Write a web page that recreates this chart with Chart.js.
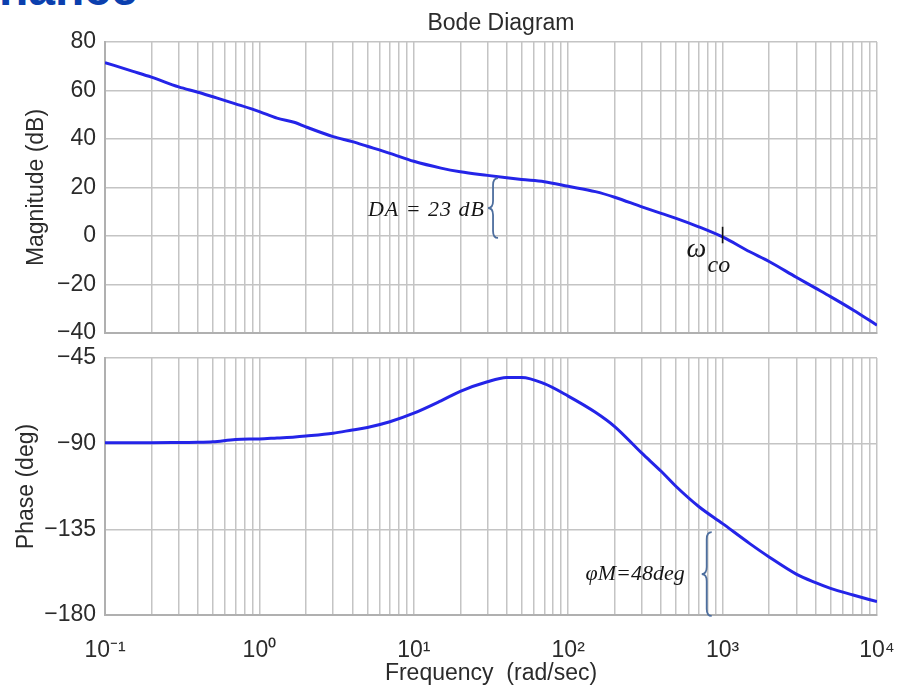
<!DOCTYPE html>
<html>
<head>
<meta charset="utf-8">
<script src="https://cdn.jsdelivr.net/npm/chart.js@4.4.1/dist/chart.umd.min.js"></script>
<style>
html,body{margin:0;padding:0;background:#fff;width:902px;height:690px;overflow:hidden;position:relative;}
#hdr{position:absolute;left:-1px;top:-35px;font:bold 48px 'Liberation Sans',Arial,sans-serif;line-height:48px;color:#0b3fae;white-space:nowrap;}
#w1{position:absolute;left:0;top:0;width:902px;height:350px;}
#w2{position:absolute;left:0;top:344px;width:902px;height:346px;}
canvas{display:block;}
</style>
</head>
<body>
<div id="hdr">nance</div>
<div id="w1"><canvas id="c1" width="902" height="350"></canvas></div>
<div id="w2"><canvas id="c2" width="902" height="346"></canvas></div>
<script>
// ---- data ----
const chartTitle = 'Bode Diagram';
const freqs = [0.1, 0.15, 0.2, 0.3, 0.4, 0.5, 0.7, 1, 1.3, 1.7, 2, 3, 4, 5, 7, 10, 15, 20, 30, 40, 50, 70,
  100, 150, 200, 300, 400, 500, 700, 1000, 1500, 2000, 3000, 4000, 5000, 7000, 10000];
const magnitudeDb = [71.5, 68, 65.5, 61.5, 59.3, 57.4, 54.5, 51.3, 48.6, 46.8, 45, 41, 38.9, 37, 34.1, 30.8, 28, 26.5, 25, 24, 23.3, 22.4,
  20.5, 18.3, 16, 12, 9.3, 7.3, 3.8, -0.4, -6.5, -10.5, -17, -21.5, -25, -30.5, -36.8];
const phaseDeg = [-89.5, -89.5, -89.5, -89.4, -89.3, -89, -87.8, -87.5, -87, -86.5, -86, -84.5, -82.8, -81.5, -78.5, -74, -67.5, -62.5, -57.5, -55.3, -55.2, -58.5,
  -65, -73.5, -81, -95, -104.5, -112.5, -123, -132, -142.5, -149.5, -158.5, -163, -166, -169.5, -173];
const decadeValues = [0.1, 1, 10, 100, 1000, 10000];
const decadeLabels = ['10\u207B\u00B9', '10\u2070', '10\u00B9', '10\u00B2', '10\u00B3', '10\u2074'];
const magTicks = [80, 60, 40, 20, 0, -20, -40];
const phaseTicks = [-45, -90, -135, -180];
const xTitle = 'Frequency  (rad/sec)';
const magTitle = 'Magnitude (dB)';
const phaseTitle = 'Phase (deg)';
const daLabel = 'DA = 23 dB';
const pmLabel = '\u03C6M=48deg';

// ---- styling ----
const FONT = "'Liberation Sans', Arial, Helvetica, sans-serif";
const SERIF = "'Liberation Serif', 'Times New Roman', serif";
const TXT = '#2b2b2b';
const GRID = '#c4c4c4';
const LINE = '#2424e8';
const BRACE = '#4d6e9e';

const gridFreqs = [];
for (let e = -1; e < 4; e++) for (let m = 1; m < 10; m++) gridFreqs.push(+(m * Math.pow(10, e)).toPrecision(6));
gridFreqs.push(10000);

function minus(v) { return v < 0 ? '\u2212' + Math.abs(v) : String(v); }

function xScale(showLabels) {
  return {
    type: 'logarithmic', min: 0.1, max: 10000,
    afterBuildTicks: s => { s.ticks = gridFreqs.map(v => ({ value: v })); },
    afterFit: s => { s.height = showLabels ? 75 : 0; s.paddingLeft = 0; s.paddingRight = 0; s.paddingTop = 0; s.paddingBottom = 0; },
    ticks: {
      display: showLabels, autoSkip: false, maxRotation: 0, minRotation: 0, padding: 22,
      color: TXT, font: { family: FONT, size: 23 },
      callback: v => {
        const i = decadeValues.findIndex(d => Math.abs(Math.log10(d) - Math.log10(v)) < 1e-6);
        return i >= 0 ? decadeLabels[i] : '';
      }
    },
    grid: { color: GRID, lineWidth: 1.5, drawTicks: false },
    border: { color: '#b0b0b0', width: 2 },
    title: { display: showLabels, text: xTitle, color: TXT, font: { family: FONT, size: 23 }, padding: { top: 0, bottom: 3 } }
  };
}

function yScale(min, max, step, tickVals, title, titlePad) {
  return {
    type: 'linear', min: min, max: max,
    afterBuildTicks: s => { s.ticks = tickVals.map(v => ({ value: v })); },
    afterFit: s => { s.width = 105; s.paddingTop = 0; s.paddingBottom = 0; s.paddingLeft = 0; s.paddingRight = 0; },
    ticks: { stepSize: step, padding: 9, color: TXT, font: { family: FONT, size: 23 }, callback: v => minus(v) },
    grid: { color: GRID, lineWidth: 1.5, drawTicks: false },
    border: { color: '#b0b0b0', width: 2 },
    title: { display: true, text: title, color: TXT, font: { family: FONT, size: 23 }, padding: { top: titlePad, bottom: 0 } }
  };
}

function drawBrace(ctx, x, y1, y2) {
  const w = 5, r = 7, ym = (y1 + y2) / 2;
  ctx.beginPath();
  ctx.moveTo(x + w, y1);
  ctx.quadraticCurveTo(x, y1, x, y1 + r);
  ctx.lineTo(x, ym - r);
  ctx.quadraticCurveTo(x, ym, x - w, ym);
  ctx.quadraticCurveTo(x, ym, x, ym + r);
  ctx.lineTo(x, y2 - r);
  ctx.quadraticCurveTo(x, y2, x + w, y2);
  ctx.stroke();
}

const topAnnot = {
  id: 'topAnnot',
  afterDatasetsDraw(chart) {
    const { ctx, scales: { x, y } } = chart;
    ctx.save();
    // title
    ctx.fillStyle = TXT;
    ctx.font = '23px ' + FONT;
    ctx.textAlign = 'center';
    ctx.textBaseline = 'alphabetic';
    ctx.fillText(chartTitle, 501, 30);
    // DA brace
    ctx.strokeStyle = BRACE; ctx.lineWidth = 1.8;
    const bx = x.getPixelForValue(32.6);
    const by1 = y.getPixelForValue(23.9), by2 = y.getPixelForValue(-0.8);
    drawBrace(ctx, bx, by1, by2);
    ctx.fillStyle = '#151515';
    ctx.font = 'italic 22px ' + SERIF;
    ctx.textAlign = 'right'; ctx.textBaseline = 'middle';
    try { ctx.letterSpacing = '1px'; } catch (e) {}
    ctx.fillText(daLabel, bx - 8, (by1 + by2) / 2 + 2);
    try { ctx.letterSpacing = '0px'; } catch (e) {}
    // omega_co tick
    const cx = x.getPixelForValue(1000);
    ctx.strokeStyle = '#111'; ctx.lineWidth = 1.6;
    ctx.beginPath();
    ctx.moveTo(cx, y.getPixelForValue(3.8));
    ctx.lineTo(cx, y.getPixelForValue(-3));
    ctx.stroke();
    ctx.textAlign = 'left'; ctx.textBaseline = 'alphabetic';
    ctx.font = 'italic 28px ' + SERIF;
    ctx.fillText('\u03C9', cx - 36, 257);
    ctx.font = 'italic 24px ' + SERIF;
    ctx.fillText('co', cx - 15, 272);
    ctx.restore();
  }
};

const botAnnot = {
  id: 'botAnnot',
  afterDatasetsDraw(chart) {
    const { ctx, scales: { x, y } } = chart;
    ctx.save();
    ctx.strokeStyle = BRACE; ctx.lineWidth = 1.8;
    const bx = x.getPixelForValue(789);
    const by1 = y.getPixelForValue(-136.5), by2 = y.getPixelForValue(-180.5);
    drawBrace(ctx, bx, by1, by2);
    ctx.fillStyle = '#151515';
    ctx.font = 'italic 22px ' + SERIF;
    ctx.textAlign = 'right'; ctx.textBaseline = 'middle';
    ctx.fillText(pmLabel, bx - 22, (by1 + by2) / 2);
    ctx.restore();
  }
};

function makeChart(id, values, yOpts, showX, padding, plugin) {
  return new Chart(document.getElementById(id), {
    type: 'line',
    data: {
      datasets: [{
        data: freqs.map((f, i) => ({ x: f, y: values[i] })),
        borderColor: LINE, borderWidth: 3, pointRadius: 0, fill: false,
        cubicInterpolationMode: 'monotone'
      }]
    },
    options: {
      responsive: false, animation: false, devicePixelRatio: 1,
      layout: { padding: padding },
      plugins: { legend: { display: false }, tooltip: { enabled: false }, title: { display: false } },
      scales: { x: xScale(showX), y: yOpts }
    },
    plugins: [plugin]
  });
}

makeChart('c1', magnitudeDb, yScale(-40, 80, 20, magTicks, magTitle, 23), false,
  { left: 0, top: 42, right: 25, bottom: 17 }, topAnnot);
makeChart('c2', phaseDeg, yScale(-180, -45, 45, phaseTicks, phaseTitle, 13), true,
  { left: 0, top: 14, right: 25, bottom: 0 }, botAnnot);
</script>
</body>
</html>
